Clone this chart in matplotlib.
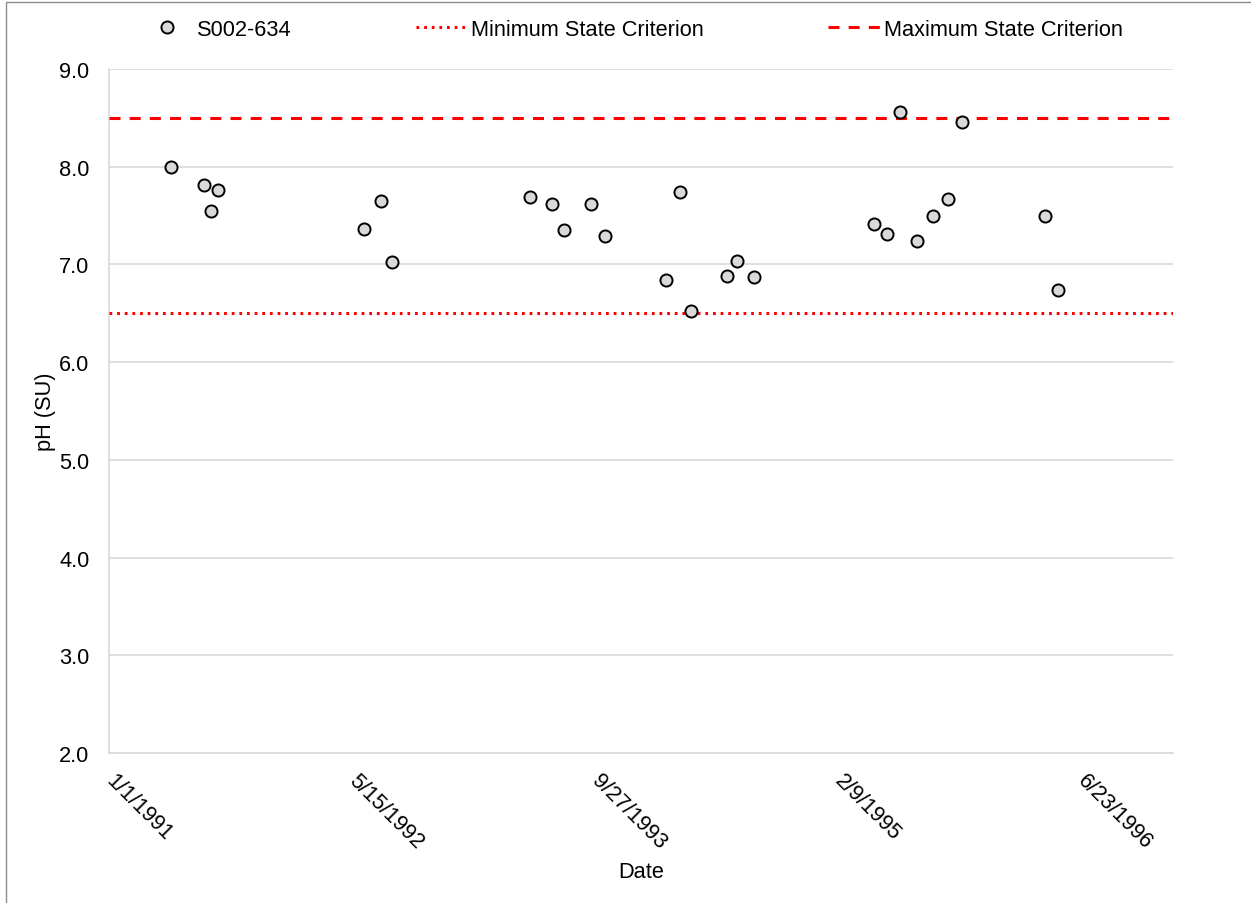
"""
pH at station S002-634 against the state criteria (Excel-style scatter).
"""

import matplotlib
matplotlib.use("Agg")
import matplotlib.pyplot as plt
import matplotlib.transforms as mtransforms
import numpy as np
import pandas as pd
from matplotlib.patches import Rectangle

plt.rcParams.update({"font.family": ["Liberation Sans", "DejaVu Sans"],
                     "font.size": 15.7})

# sample dates and pH readings
dates = ["1991-05-09", "1991-07-16", "1991-07-31", "1991-08-14",
         "1992-06-09", "1992-07-14", "1992-08-05",
         "1993-05-18", "1993-07-01", "1993-07-27", "1993-09-21", "1993-10-19",
         "1994-02-22", "1994-03-22", "1994-04-13", "1994-06-27", "1994-07-18",
         "1994-08-22",
         "1995-04-27", "1995-05-23", "1995-06-19", "1995-07-23", "1995-08-25",
         "1995-09-25", "1995-10-25",
         "1996-04-12", "1996-05-09"]
ph = [8.00, 7.81, 7.55, 7.76,
      7.36, 7.65, 7.02,
      7.69, 7.62, 7.35, 7.62, 7.29,
      6.84, 7.74, 6.52, 6.88, 7.04, 6.87,
      7.41, 7.31, 8.56, 7.24, 7.50, 7.67, 8.46,
      7.50, 6.74]
station = "S002-634"
min_crit = 6.5
max_crit = 8.5
x_start, x_end = "1991-01-01", "1997-01-01"
tick_step_days = 500

W, H = 1251, 904
fig = plt.figure(figsize=(W / 100, H / 100), dpi=100)
ax = fig.add_axes([109 / W, 1 - 754 / H, 1064 / W, 684 / H])

t = pd.to_datetime(dates)
x0, x1 = pd.Timestamp(x_start), pd.Timestamp(x_end)

ax.plot(t, ph, "o", ms=8.7, mfc="#d9d9d9", mec="black", mew=1.4,
        label=station, zorder=4)
ax.plot([x0, x1], [min_crit, min_crit], color="#ff0000", lw=2.2,
        dashes=(0.9, 1.6), label="Minimum State Criterion", zorder=3)
ax.plot([x0, x1], [max_crit, max_crit], color="#ff0000", lw=2.2,
        dashes=(3.6, 3.0), label="Maximum State Criterion", zorder=3)

ax.set_xlim(x0, x1)
ax.set_ylim(2.0, 9.0)
ax.set_yticks(np.arange(2.0, 9.01, 1.0))
ax.yaxis.set_major_formatter(matplotlib.ticker.FormatStrFormatter("%.1f"))
ticks = pd.date_range(x0, x1, freq=f"{tick_step_days}D")
ax.set_xticks(ticks)
ax.set_xticklabels([f"{d.month}/{d.day}/{d.year}" for d in ticks],
                   rotation=-45, ha="left", va="top", rotation_mode="anchor")
ax.tick_params(axis="x", length=0, pad=12)
ax.tick_params(axis="y", length=0, pad=14)
shift = mtransforms.ScaledTranslation(8 / 100, 0, fig.dpi_scale_trans)
for lab in ax.get_xticklabels():
    lab.set_transform(lab.get_transform() + shift)

ax.grid(axis="y", color="#d9d9d9", lw=1.2)
ax.set_axisbelow(True)
for side in ("top", "right"):
    ax.spines[side].set_visible(False)
for side in ("left", "bottom"):
    ax.spines[side].set_color("#d9d9d9")
    ax.spines[side].set_linewidth(1.2)

ax.set_ylabel("pH (SU)")
ax.yaxis.set_label_coords(-53 / 1064, 0.5)
ax.set_xlabel("Date", va="center")
ax.xaxis.set_label_coords(0.5, -(873 - 754) / 684)

fig.legend(loc="center", bbox_to_anchor=(632 / W, 1 - 30 / H), ncol=3,
           frameon=False, handlelength=2.4, handletextpad=0.15,
           columnspacing=5.7, borderpad=0)

# chart-area frame as in the spreadsheet export
fig.add_artist(Rectangle((6 / W, -0.05), 1.1, 1 - 3 / H + 0.05,
                         transform=fig.transFigure, fill=False,
                         edgecolor="#8c8c8c", lw=1.0))

fig.savefig("out.png", dpi=100)
